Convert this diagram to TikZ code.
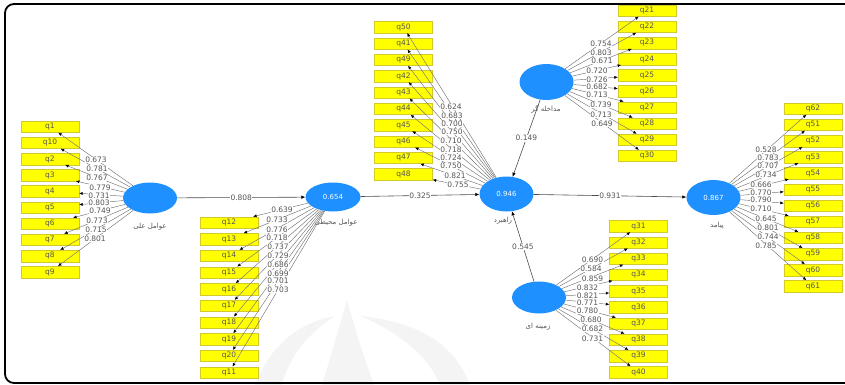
\documentclass[tikz,border=0pt]{standalone}
\usepackage{fontspec}
\setmainfont{DejaVu Sans}
\newfontfamily\arfont[Script=Arabic]{DejaVu Sans}
\TeXXeTstate=1
\usetikzlibrary{shapes.geometric,arrows.meta}
\definecolor{lvblue}{RGB}{30,144,255}
\definecolor{indyel}{RGB}{255,255,0}
\definecolor{txtgray}{RGB}{85,85,85}
\definecolor{lngray}{RGB}{115,115,115}
\tikzset{
  lv/.style={ellipse, fill=lvblue, draw=none, minimum width=54pt, minimum height=33pt, inner sep=0pt, text=white, font=\fontsize{7}{8}\selectfont},
  ind/.style={rectangle, fill=indyel, draw=yellow!80!black, line width=0.3pt, minimum width=58pt, minimum height=11.5pt, inner sep=0pt, text=txtgray, font=\fontsize{7.5}{8}\selectfont},
  ld/.style={draw=lngray, line width=0.45pt, -{Latex[length=3.5pt,width=3pt,color=black]}},
  st/.style={draw=black!70, line width=0.6pt, -{Latex[length=4pt,width=3.5pt,color=black]}},
  lbl/.style={fill=white, inner sep=0.5pt, text=txtgray, font=\fontsize{7.5}{8}\selectfont},
  arlbl/.style={inner sep=0pt, text=txtgray, font=\arfont\fontsize{7}{8}\selectfont},
  wm/.style={fill=gray!9, draw=none}
}
\begin{document}
\begin{tikzpicture}[x=1pt,y=-1pt]
\useasboundingbox (0,0) rectangle (845,385);
% faint watermark
\fill[wm] (255,385) .. controls (270,345) and (300,322) .. (335,316) .. controls (305,335) and (288,360) .. (282,385) -- cycle;
\fill[wm] (322,385) .. controls (334,345) .. (347,300) .. controls (360,345) .. (374,385) -- cycle;
\fill[wm] (470,385) .. controls (455,345) and (420,322) .. (360,316) .. controls (405,335) and (430,360) .. (440,385) -- cycle;
% frame
\draw[line width=1.8pt, rounded corners=9pt] (5,4) rectangle (870,383);
% latent variables
\node[lv, minimum height=31pt] (c1) at (150,198) {};
\node[lv, minimum height=29pt, minimum width=55pt] (c2) at (333,197) {0.654};
\node[lv, minimum height=35pt] (c3) at (506.5,194) {0.946};
\node[lv, minimum height=36pt] (c4) at (546.5,82) {};
\node[lv, minimum height=32pt] (c5) at (539,297.5) {};
\node[lv, minimum height=35pt] (c6) at (713.5,197.5) {0.867};
% latent labels
\node[arlbl] (n1) at (150,227) {\beginR عوامل علی\endR};
\node[arlbl] (n2) at (336,223) {\beginR عوامل محیطی\endR};
\node[arlbl] (n3) at (503,221) {\beginR راهبرد\endR};
\node[arlbl] (n4) at (546,109) {\beginR مداخله گر\endR};
\node[arlbl] (n5) at (538,327) {\beginR زمینه ای\endR};
\node[arlbl] (n6) at (717,226) {\beginR پیامد\endR};
% indicators
\foreach \n [count=\i from 0] in {1,10,2,3,4,5,6,7,8,9}
  \node[ind] (q\n) at (50,126.7+16.15*\i) {q\n};
\foreach \n [count=\i from 0] in {12,13,14,15,16,17,18,19,20,11}
  \node[ind] (q\n) at (229,222.5+16.67*\i) {q\n};
\foreach \n [count=\i from 0] in {50,41,49,42,43,44,45,46,47,48}
  \node[ind] (q\n) at (403.5,27.2+16.33*\i) {q\n};
\foreach \n [count=\i from 0] in {21,22,23,24,25,26,27,28,29,30}
  \node[ind] (q\n) at (647,10.7+16.12*\i) {q\n};
\foreach \n [count=\i from 0] in {31,32,33,34,35,36,37,38,39,40}
  \node[ind] (q\n) at (638.5,226.2+16.22*\i) {q\n};
\foreach \n [count=\i from 0] in {62,51,52,53,54,55,56,57,58,59,60,61}
  \node[ind] (q\n) at (813,108.7+16.14*\i) {q\n};
% loadings: lines
\foreach \n in {1,10,2,3,4,5,6,7,8,9} \draw[ld] (c1) -- (q\n);
\foreach \n in {12,13,14,15,16,17,18,19,20,11} \draw[ld] (c2) -- (q\n);
\foreach \n in {50,41,49,42,43,44,45,46,47,48} \draw[ld] (c3) -- (q\n);
\foreach \n in {21,22,23,24,25,26,27,28,29,30} \draw[ld] (c4) -- (q\n);
\foreach \n in {31,32,33,34,35,36,37,38,39,40} \draw[ld] (c5) -- (q\n);
\foreach \n in {62,51,52,53,54,55,56,57,58,59,60,61} \draw[ld] (c6) -- (q\n);
% loadings: values
\foreach \n/\v/\lx/\ly in {1/0.673/96/160,10/0.781/97/168.5,2/0.767/97/178,3/0.779/100/187.5,4/0.731/99/196,5/0.803/99/203,6/0.749/100/211,7/0.773/97/220.5,8/0.715/96/230,9/0.801/95/238.5,
  12/0.639/282/209.5,13/0.733/277/220,14/0.776/277/229.3,15/0.718/277/237.7,16/0.737/278/246.7,17/0.729/278/255.7,18/0.686/278/265,19/0.699/278/273.3,20/0.701/278/281,11/0.703/278/289.3,
  50/0.624/451/106.7,41/0.683/452/115.3,49/0.700/452/124,42/0.750/452/131.7,43/0.710/451/140.7,44/0.718/451/149.3,45/0.724/451/157.7,46/0.750/451/166,47/0.821/455/175.7,48/0.755/458/184.3,
  21/0.754/601/43.3,22/0.803/601/52.3,23/0.671/602/61,24/0.720/597/71,25/0.726/597/79.3,26/0.682/597/86.7,27/0.713/597/95,28/0.739/601/105,29/0.713/601/114.3,30/0.649/602/123.3,
  31/0.690/592.5/260,32/0.584/591/269,33/0.859/592.5/278.3,34/0.832/587.5/287.7,35/0.821/587.5/295.7,36/0.771/587.5/302.3,37/0.780/587.5/310.7,38/0.680/591/320,39/0.682/592.5/329,40/0.731/592.5/338.3,
  62/0.528/766/149.3,51/0.783/768/157.7,52/0.707/768/166,53/0.734/766/175,54/0.666/761/185,55/0.770/761/192.7,56/0.790/761/200,57/0.710/761/208.3,58/0.645/766/218.3,59/0.801/768/227.7,60/0.744/768/236.7,61/0.785/766/245.3}
  \node[lbl] (l\n) at (\lx,\ly) {\v};
% structural paths
\draw[st] (c1) -- node[lbl] (p1) {0.808} (c2);
\draw[st] (c2) -- node[lbl] (p2) {0.325} (c3);
\draw[st] (c3) -- node[lbl] (p3) {0.931} (c6);
\draw[st] (c4) -- node[lbl] (p4) {0.149} (c3);
\draw[st] (c5) -- node[lbl] (p5) {0.545} (c3);
\end{tikzpicture}
\end{document}
